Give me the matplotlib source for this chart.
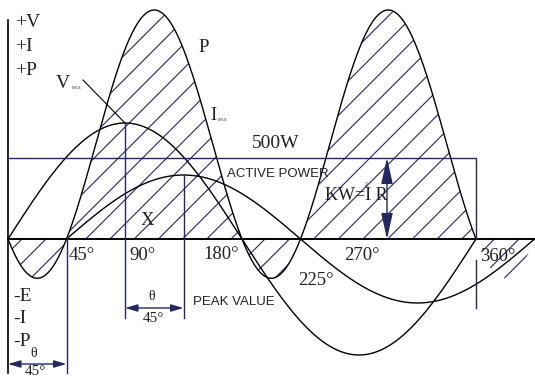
import matplotlib
matplotlib.use('Agg')
import matplotlib.pyplot as plt
from matplotlib.patches import Polygon
import numpy as np

# waveform parameters (y in screen units above the base line)
V_PEAK = 116          # voltage amplitude
I_PEAK = 64           # current amplitude
I_LAG = 45            # current lags voltage by 45 deg
P_PEAK = 229          # top of the power lobes
AVG_LEVEL = 81        # 500W line
deg_labels = ['45°', '90°', '180°', '225°', '270°', '360°']

NAVY = '#262660'
SERIF = 'Liberation Serif'
SANS = 'Liberation Sans'


# picture pixel -> data helpers (used for placing text only)
def px(x):
    return (x - 8) / 1.3


def py(y):
    return 239 - y


fig = plt.figure(figsize=(5.35, 3.79), dpi=100)
ax = fig.add_axes([0, 0, 1, 1])
ax.set_xlim(px(0), px(535))
ax.set_ylim(py(379), py(0))
ax.axis('off')

rad = np.pi / 180
th_v = np.linspace(0, 360, 721)
v = V_PEAK * np.sin(th_v * rad)
th_i = np.linspace(I_LAG, 405, 721)
i = I_PEAK * np.sin((th_i - I_LAG) * rad)
k = P_PEAK / ((np.cos(I_LAG * rad) + 1) / 2)
th_p = np.linspace(0, 405, 811)
p = k * np.sin(th_p * rad) * np.sin((th_p - I_LAG) * rad)

# hatching of each power lobe: (start, end, first line crossing px, spacing)
lobes = [(0, 45, 22, 24), (45, 180, 110, 24.2), (180, 225, 265, 24.5),
         (225, 360, 363, 24.7), (360, 405, 470, 24.5)]
for a, b, b0, s in lobes:
    m = (th_p >= a) & (th_p <= b)
    xs = np.concatenate([th_p[m], [b, a]])
    ys = np.concatenate([p[m], [0, 0]])
    poly = Polygon(np.column_stack([xs, ys]), closed=True, fill=False, lw=0)
    ax.add_patch(poly)
    for c in np.arange(b0 - 30 * s, b0 + 30 * s, s):
        xx = np.array([px(c - 300), px(c + 300)])
        yy = 8 + 1.3 * xx - c
        ln, = ax.plot(xx, yy, color=NAVY, lw=0.8)
        ln.set_clip_path(poly)

# curves
ax.plot(th_v, v, color='black', lw=1.0)
ax.plot(th_i, i, color='black', lw=1.0)
mp = th_p <= 360
ax.plot(th_p[mp], p[mp], color='black', lw=1.0)

# base line and vertical axis
ax.plot([0, px(535)], [0, 0], color='black', lw=1.4)
ax.plot([0, 0], [py(20), py(373)], color='black', lw=1.2)

# 500W rectangle
ax.plot([0, 360, 360], [AVG_LEVEL, AVG_LEVEL, 0], color=NAVY, lw=1.0)

# construction lines
ax.plot([90, 90], [V_PEAK, py(318)], color=NAVY, lw=1.0)
ax.plot([135, 135], [I_PEAK, py(318)], color=NAVY, lw=1.0)
ax.plot([45, 45], [0, py(373)], color=NAVY, lw=1.0)
ax.plot([360, 360], [py(260), py(308)], color=NAVY, lw=1.0)

# dimension arrows
arr = dict(arrowstyle='<|-|>,head_length=0.75,head_width=0.22', color=NAVY, lw=1.0,
           shrinkA=0, shrinkB=0, mutation_scale=10)
ax.annotate('', xy=(0, py(364)), xytext=(45, py(364)), arrowprops=arr)
ax.annotate('', xy=(90, py(308)), xytext=(135, py(308)), arrowprops=arr)
arr2 = dict(arrowstyle='<|-|>,head_length=1.6,head_width=0.36', color=NAVY, lw=1.0,
            shrinkA=0, shrinkB=0, mutation_scale=10)
ax.annotate('', xy=(px(387), AVG_LEVEL), xytext=(px(387), 0), arrowprops=arr2)

# V max leader
ax.plot([px(83), 90], [py(80), V_PEAK], color='black', lw=0.8)


def t(x, y, s, size=13.5, fam=SERIF, **kw):
    ax.text(px(x), py(y), s, fontsize=size, family=fam, color='#222222',
            va='baseline', ha='left', **kw)


t(15, 27, '+V', size=14)
t(15, 51, '+I', size=14)
t(15, 75, '+P', size=14)
t(13, 301, '-E', size=14)
t(13, 323, '-I', size=14)
t(13, 346, '-P', size=14)
t(56, 88, 'V', size=14)
t(72, 89, 'MAX', size=3)
t(198, 52, 'P')
t(210, 120, 'I')
t(218, 121, 'MAX', size=3)
t(252, 148, '500W', size=14)
t(227, 177, 'ACTIVE POWER', size=9.5, fam=SANS)
t(325, 200, 'KW=I R', size=13)
t(364.5, 186, '2', size=4)
t(141, 225, 'X')
t(193, 305, 'PEAK VALUE', size=9.5, fam=SANS)

deg_pos = [(69, 260), (129, 260), (203, 259), (298, 285), (344, 260), (480, 261)]
for (x, y), s in zip(deg_pos, deg_labels):
    t(x, y, s)

t(30, 357, 'θ', size=10)
t(25, 375, '45°', size=11)
t(148, 300, 'θ', size=10)
t(143, 322, '45°', size=11)

fig.savefig('out.png', dpi=100)
